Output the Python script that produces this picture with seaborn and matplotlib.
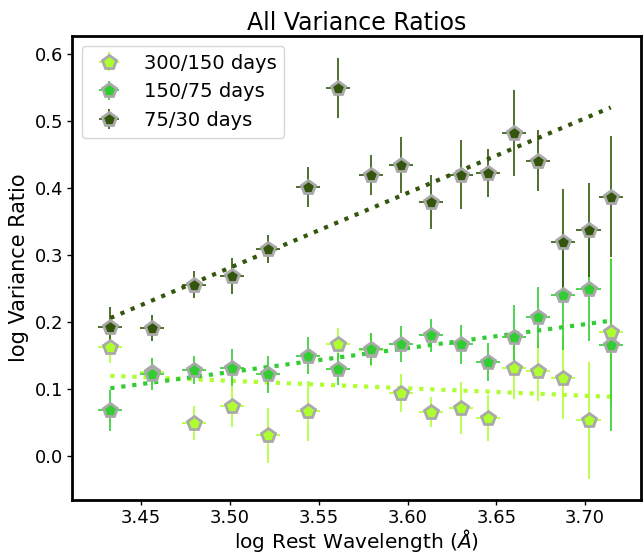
#!/usr/bin/env python

import numpy as np
import pandas as pd
import seaborn as sns
from matplotlib import pyplot as plt

sns.set_theme(style="ticks")
plt.rcParams['font.family'] = ['DejaVu Sans']
plt.rcParams['text.color'] = 'black'
plt.rcParams['axes.labelcolor'] = 'black'
plt.rcParams['xtick.color'] = 'black'
plt.rcParams['ytick.color'] = 'black'

# log rest wavelength of each bin
log_wave = [3.4326, 3.4560, 3.4798, 3.5010, 3.5212, 3.5438, 3.5607, 3.5796, 3.5965,
            3.6133, 3.6303, 3.6453, 3.6597, 3.6736, 3.6876, 3.7019, 3.7144]
wave_err = 0.0068

# log variance ratios, with their errors
ratio_300_150 = [0.163, 0.126, 0.049, 0.074, 0.031, 0.067, 0.167, 0.158, 0.094,
                 0.066, 0.072, 0.057, 0.132, 0.127, 0.117, 0.053, 0.185]
err_300_150 = [0.024, 0.020, 0.025, 0.030, 0.041, 0.045, 0.024, 0.024, 0.029,
               0.022, 0.039, 0.034, 0.047, 0.045, 0.062, 0.087, 0.110]

ratio_150_75 = [0.068, 0.122, 0.129, 0.132, 0.122, 0.150, 0.130, 0.160, 0.167,
                0.180, 0.167, 0.140, 0.178, 0.207, 0.240, 0.249, 0.166]
err_150_75 = [0.031, 0.024, 0.021, 0.028, 0.028, 0.028, 0.024, 0.024, 0.027,
              0.025, 0.029, 0.028, 0.048, 0.046, 0.082, 0.077, 0.128]

ratio_75_30 = [0.193, 0.191, 0.256, 0.269, 0.309, 0.401, 0.549, 0.419, 0.434,
               0.379, 0.420, 0.423, 0.482, 0.441, 0.320, 0.337, 0.387]
err_75_30 = [0.029, 0.020, 0.020, 0.027, 0.021, 0.030, 0.045, 0.030, 0.042,
             0.040, 0.051, 0.036, 0.064, 0.046, 0.079, 0.070, 0.090]

series = [
    ("300/150 days", ratio_300_150, err_300_150, "greenyellow"),
    ("150/75 days", ratio_150_75, err_150_75, "limegreen"),
    ("75/30 days", ratio_75_30, err_75_30, "#33560c"),
]

fig = plt.figure(figsize=(6.43, 5.54), dpi=100)
ax = fig.add_axes([0.112, 0.0975, 0.885, 0.8375])

x = np.array(log_wave)
for label, vals, errs, color in series:
    y = np.array(vals)
    e = np.array(errs)
    eb = ax.errorbar(x, y, yerr=e, xerr=wave_err, fmt='p', color=color, ecolor=color,
                     elinewidth=1.4, markersize=10, markerfacecolor=color,
                     markeredgecolor='darkgray', markeredgewidth=2, label=label, zorder=3)
    for bars in eb[2]:
        bars.set_alpha(0.85)
    # weighted linear fit, drawn as a dotted line
    slope, icpt = np.polyfit(x, y, 1, w=1.0 / e)
    fit = pd.DataFrame({"x": [x[0], x[-1]], "y": [slope * x[0] + icpt, slope * x[-1] + icpt]})
    sns.lineplot(data=fit, x="x", y="y", ax=ax, color=color, linestyle=':',
                 linewidth=3, zorder=2)

ax.set_xlim(3.411, 3.7315)
ax.set_ylim(-0.0657, 0.627)
ax.set_xticks([3.45, 3.50, 3.55, 3.60, 3.65, 3.70])
ax.set_yticks([0.0, 0.1, 0.2, 0.3, 0.4, 0.5, 0.6])
ax.tick_params(labelsize=13, length=3.5, width=1, color='black', pad=3)
for s in ax.spines.values():
    s.set_linewidth(2)
    s.set_color('black')

ax.set_title("All Variance Ratios", fontsize=17, pad=4)
ax.set_xlabel("log Rest Wavelength ($\\AA$)", fontsize=14.5, labelpad=0)
ax.set_ylabel("log Variance Ratio", fontsize=15, labelpad=4)
ax.legend(loc="upper left", fontsize=14)

fig.savefig("out.png", dpi=100)
